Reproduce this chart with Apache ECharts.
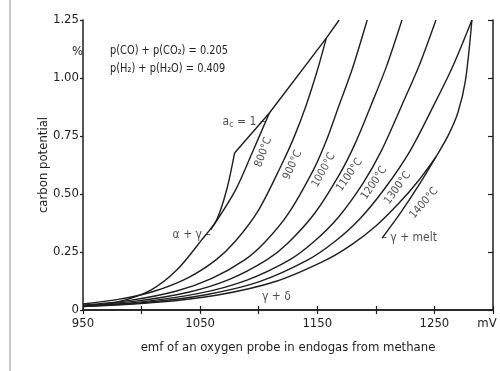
<!DOCTYPE html>
<html><head><meta charset="utf-8">
<script src="https://cdn.jsdelivr.net/npm/echarts@6/dist/echarts.min.js"></script>
<style>html,body{margin:0;padding:0;background:#fff}#c{width:500px;height:371px}</style>
</head><body><div id="c"></div>
<script>
// ---- data (emf in mV, carbon potential in %) ----
const yTicks = [0, 0.25, 0.5, 0.75, 1.0, 1.25];
const xTickLabels = [950, 1050, 1150, 1250];

const mvAlphaGamma = [950.9, 978.9, 1007.9, 1030, 1051.3, 1064, 1072.6, 1079.4];
const cAlphaGamma  = [0.017, 0.034, 0.086, 0.172, 0.302, 0.388, 0.517, 0.677];

const mvAc1 = [1079.4, 1109.1, 1157.7, 1168.7];
const cAc1  = [0.677, 0.849, 1.172, 1.25];

const mv800 = [1058.9, 1080.2, 1094.7, 1109.1];
const c800  = [0.345, 0.517, 0.681, 0.849];

const mv900 = [950, 980, 1010, 1040, 1063.5, 1080, 1100, 1119.4, 1130, 1140.6, 1150, 1157.7];
const c900  = [0.026, 0.0456, 0.0798, 0.140, 0.216, 0.296, 0.432, 0.625, 0.743, 0.884, 1.032, 1.172];

const mv1000 = [950, 990, 1030, 1060, 1088, 1105, 1125, 1146.6, 1158, 1168.7, 1180, 1192.6];
const c1000  = [0.021, 0.0415, 0.0818, 0.136, 0.216, 0.291, 0.413, 0.603, 0.734, 0.884, 1.041, 1.25];

const mv1100 = [950, 995, 1040, 1075, 1106.8, 1125, 1148, 1168.7, 1182, 1196, 1209, 1222.3];
const c1100  = [0.019, 0.0382, 0.0767, 0.132, 0.216, 0.289, 0.418, 0.582, 0.714, 0.884, 1.049, 1.25];

const mv1200 = [950, 1000, 1050, 1090, 1126.3, 1147, 1168, 1189.1, 1205, 1222.3, 1237, 1251.3];
const c1200  = [0.017, 0.0351, 0.0725, 0.129, 0.216, 0.294, 0.400, 0.547, 0.689, 0.884, 1.054, 1.25];

const mv1300 = [950, 1005, 1055, 1100, 1142, 1165, 1186, 1207.9, 1229, 1249.6, 1266, 1282];
const c1300  = [0.016, 0.0336, 0.066, 0.121, 0.216, 0.295, 0.391, 0.526, 0.684, 0.884, 1.054, 1.25];

const mv1400 = [950, 1010, 1065, 1115, 1157.7, 1180, 1200, 1219.8, 1236, 1251.3];
const c1400  = [0.0145, 0.0316, 0.0647, 0.124, 0.216, 0.284, 0.362, 0.461, 0.555, 0.66];

const mvMelt = [1205.3, 1221.5, 1236.8, 1251.3, 1262, 1270, 1276.5, 1282];
const cMelt  = [0.31, 0.422, 0.539, 0.66, 0.755, 0.85, 0.99, 1.25];

// annotation texts and their anchor points (mV, %)
const curveLabels = ['800°C', '900°C', '1000°C', '1100°C', '1200°C', '1300°C', '1400°C'];
const labelMv = [1104, 1129, 1155.5, 1177.5, 1198.5, 1218.5, 1241];
const labelC  = [0.68, 0.625, 0.603, 0.582, 0.547, 0.526, 0.461];
const labelRot = [70, 65, 61, 55, 56, 54, 49];

const zip = (a, b) => a.map((v, i) => [v, b[i]]);
const ink = '#1e1e1e';
const FONT = '"DejaVu Sans Condensed", "Liberation Sans Narrow", sans-serif';

function curve(name, mv, c, smooth) {
  return {
    name, type: 'line', data: zip(mv, c), showSymbol: false, symbol: 'none',
    smooth: smooth, lineStyle: { color: ink, width: 1.4 }, silent: true, z: 3
  };
}

const annot = curveLabels.map((t, i) => ({
  value: [labelMv[i], labelC[i]],
  label: { show: true, formatter: t, rotate: labelRot[i], position: 'inside', fontSize: 11 }
}));
annot.push({ value: [1042.8, 0.323], label: { show: true, formatter: 'α + γ –', position: 'inside', fontSize: 12 } });
annot.push({ value: [1087.4, 0.81], label: { show: true, formatter: '{n|a}{s|c}{n| = 1 –}', position: 'inside',
  rich: { n: { fontSize: 12, fontFamily: FONT, color: ink }, s: { fontSize: 9, fontFamily: FONT, color: ink, verticalAlign: 'bottom', padding: [6, 0, 0, 0] } } } });
annot.push({ value: [1228.5, 0.31], label: { show: true, formatter: '– γ + melt', position: 'inside', fontSize: 12 } });
annot.push({ value: [1115.1, 0.056], label: { show: true, formatter: 'γ + δ', position: 'inside', fontSize: 12 } });

const chart = echarts.init(document.getElementById('c'), null, { renderer: 'canvas' });
const axisLine = { show: true, lineStyle: { color: ink, width: 1.5 } };
chart.setOption({
  animation: false,
  backgroundColor: '#fff',
  textStyle: { fontFamily: FONT, color: ink },
  grid: { left: 83, right: 7, top: 20, bottom: 61 },
  xAxis: [{
    type: 'value', min: 950, max: 1300, interval: 50,
    axisLine, splitLine: { show: false },
    axisTick: { inside: true, length: 4, lineStyle: { color: ink, width: 1.2 } },
    axisLabel: {
      margin: 7, fontSize: 13, color: ink, fontFamily: FONT,
      formatter: v => xTickLabels.includes(v) ? String(v) : (v === 1300 ? '{u|mV}' : ''),
      rich: { u: { fontSize: 13, fontFamily: FONT, color: ink, padding: [0, 12, 0, 0] } }
    },
    name: 'emf of an oxygen probe in endogas from methane', nameLocation: 'middle', nameGap: 31,
    nameTextStyle: { fontSize: 13, color: ink, fontFamily: FONT }
  }, {
    type: 'value', position: 'top', min: 950, max: 1300, interval: 50,
    axisLine, splitLine: { show: false },
    axisTick: { inside: true, length: 4, lineStyle: { color: ink, width: 1.2 } },
    axisLabel: { show: false }
  }],
  yAxis: [{
    type: 'value', min: 0, max: 1.25, interval: 0.25,
    axisLine, splitLine: { show: false },
    axisTick: { inside: false, length: 3, lineStyle: { color: ink, width: 1.2 } },
    axisLabel: { margin: 4, fontSize: 13, color: ink, fontFamily: FONT,
      formatter: v => yTicks.includes(v) ? (v === 0 ? '0' : v.toFixed(2)) : '' },
    name: 'carbon potential', nameLocation: 'middle', nameGap: 33, nameRotate: 90,
    nameMoveOverlap: false,
    nameTextStyle: { fontSize: 13, color: ink, fontFamily: FONT }
  }, {
    type: 'value', position: 'right', min: 0, max: 1.25, interval: 0.25,
    axisLine, splitLine: { show: false },
    axisTick: { inside: true, length: 5, lineStyle: { color: ink, width: 1.2 } },
    axisLabel: { show: false }
  }],
  series: [
    curve('α+γ', mvAlphaGamma, cAlphaGamma, 0.3),
    curve('ac=1', mvAc1, cAc1, false),
    curve('800', mv800, c800, 0.3),
    curve('900', mv900, c900, 0.3),
    curve('1000', mv1000, c1000, 0.3),
    curve('1100', mv1100, c1100, 0.3),
    curve('1200', mv1200, c1200, 0.3),
    curve('1300', mv1300, c1300, 0.3),
    curve('1400', mv1400, c1400, 0.3),
    curve('γ+melt', mvMelt, cMelt, 0.3),
    {
      type: 'scatter', data: annot, symbolSize: 0, silent: true, z: 5,
      label: { color: ink, fontFamily: FONT }
    }
  ],
  graphic: [
    { type: 'line', shape: { x1: 10, y1: 0, x2: 10, y2: 371 }, style: { stroke: '#c8c8c8', lineWidth: 2 } },
    { type: 'text', left: 72, top: 45, style: { text: '%', font: '13px ' + FONT, fill: ink } },
    { type: 'text', x: 110, y: 44, scaleX: 0.84, style: { text: 'p(CO) + p(CO₂) = 0.205', font: '13px ' + FONT, fill: ink } },
    { type: 'text', x: 110, y: 62, scaleX: 0.84, style: { text: 'p(H₂) + p(H₂O) = 0.409', font: '13px ' + FONT, fill: ink } }
  ]
});
</script></body></html>
